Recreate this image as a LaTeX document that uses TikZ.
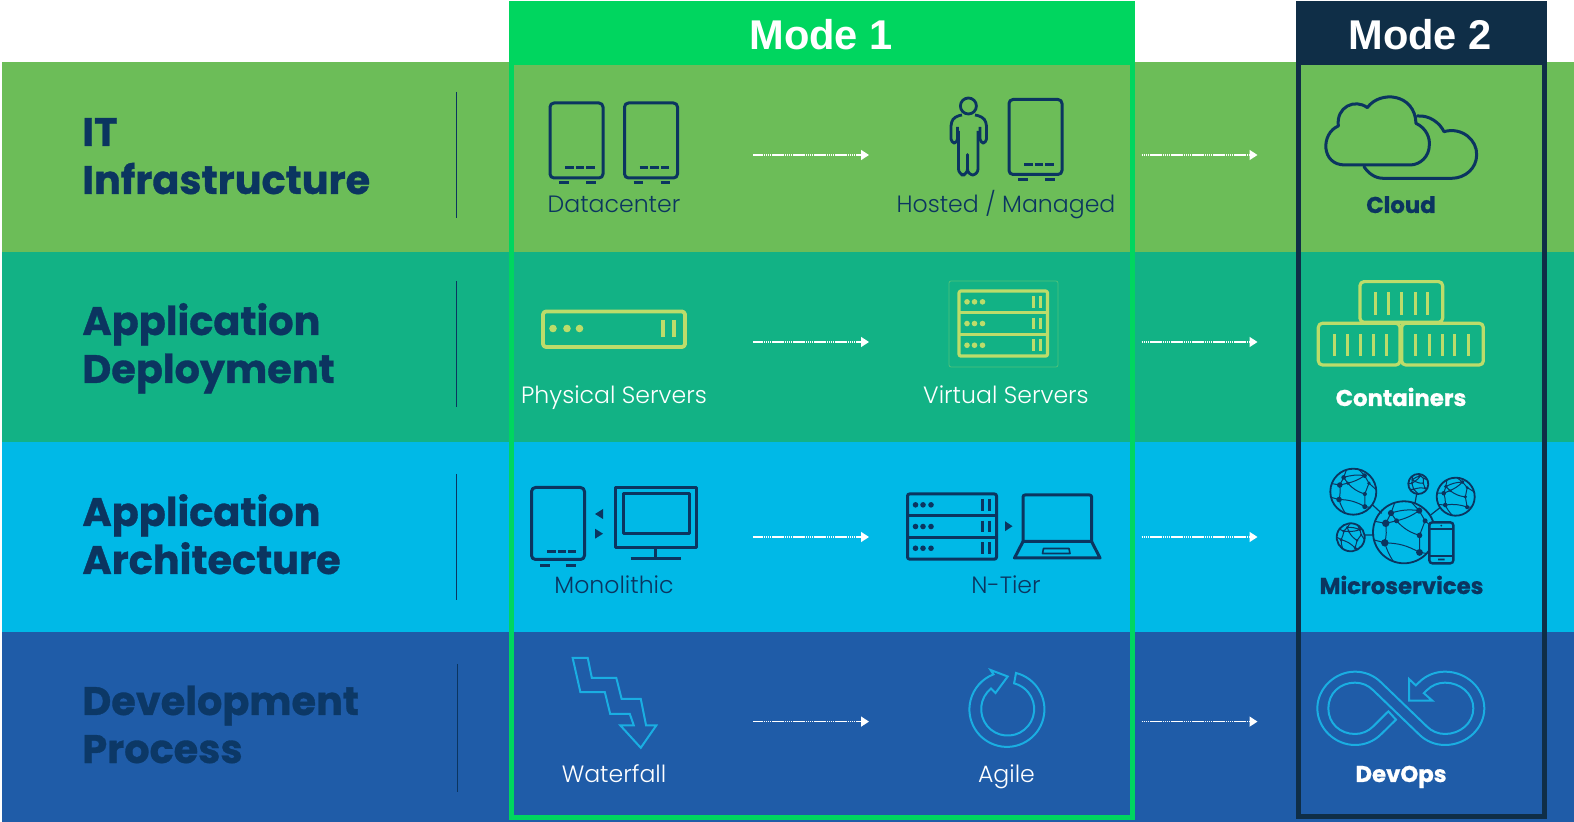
\documentclass[tikz,border=0pt]{standalone}
\usepackage{fontspec}
\setmainfont{Poppins}
\newfontfamily\headfont{Poppins}[BoldFont=* Bold,BoldFeatures={FakeBold=0.8}]
\newfontfamily\litefont{Poppins}[UprightFont=* Light]
\newfontfamily\modefont{Liberation Sans}
\usetikzlibrary{arrows.meta}
\definecolor{bandA}{HTML}{6CBD58}
\definecolor{bandB}{HTML}{12B285}
\definecolor{bandC}{HTML}{00B9E7}
\definecolor{bandD}{HTML}{1F5CA8}
\definecolor{modeA}{HTML}{00D65F}
\definecolor{modeB}{HTML}{0F2E47}
\definecolor{ink}{HTML}{0B3560}
\definecolor{lime}{HTML}{BCDC6A}
\definecolor{cyanline}{HTML}{1AAEE2}
\tikzset{
 x=0.5pt,y=-0.5pt,
 head/.style={anchor=base west,inner sep=0,font=\headfont\bfseries\fontsize{19.9}{20}\selectfont,text=ink},
 lab/.style={anchor=base,inner sep=0,font=\litefont\fontsize{11.8}{12}\selectfont},
 blab/.style={anchor=base,inner sep=0,font=\headfont\bfseries\fontsize{11.4}{12}\selectfont},
 modelab/.style={anchor=base,inner sep=0,font=\modefont\bfseries\fontsize{20.8}{22}\selectfont,text=white},
 ico/.style={draw=ink,line width=1.5pt,line join=round},
 lim/.style={draw=lime,line width=1.6pt,line join=round},
 cya/.style={draw=cyanline,line width=1pt,line join=miter},
 divider/.style={draw=ink,line width=0.5pt},
 flow/.style={draw=white,line width=0.65pt,dash pattern=on 0.8pt off 0.25pt,-{Triangle[length=4pt,width=5pt,fill=white]}},
}
\newcommand{\towerbox}[2]{%
 \draw[ico,rounded corners=2pt] (#1,#2) rectangle ++(53,75);
 \draw[ico,dash pattern=on 4.3pt off 1pt] (#1+15,#2+65) -- ++(30,0);
 \draw[ico] (#1+9,#2+80) -- ++(9.5,0) (#1+36,#2+80) -- ++(9.5,0);
}
\newcommand{\rackbox}[6]{%
 \draw[#6,rounded corners=1pt] (#1,#2) rectangle ++(#3,3*#4);
 \draw[#6] (#1,#2+#4) -- ++(#3,0) (#1,#2+2*#4) -- ++(#3,0);
 \foreach \i in {0,1,2}{
  \fill[#5] (#1+8,#2+#4*\i+#4/2) circle (2.8) (#1+15.5,#2+#4*\i+#4/2) circle (2.8) (#1+23.5,#2+#4*\i+#4/2) circle (2.8);
  \draw[#5,line width=1.1pt] (#1+#3-14,#2+#4*\i+5) -- ++(0,#4-10) (#1+#3-7,#2+#4*\i+5) -- ++(0,#4-10);
 }
}
\newcommand{\globeicon}[4]{%
 \begin{scope}[shift={(#1,#2)},rotate=#4]
 \draw[ink,line width=0.9pt] (0,0) circle (#3);
 \begin{scope}[scale=#3]
 \coordinate (ga) at (-.42,-.62);\coordinate (gb) at (-.59,-.29);\coordinate (gc) at (-.24,-.37);
 \coordinate (gd) at (-.62,.34);\coordinate (ge) at (.49,-.70);\coordinate (gf) at (.68,-.37);
 \coordinate (gg) at (.5,.1);\coordinate (gh) at (.5,.65);
 \draw[ink,line width=0.5pt] (ga)--(gb) (ga)--(gc) (gb)--(gc)
  (gb) to[bend left=10] (gd) (gd) to[bend left=14] (gh) (gc) to[bend right=15] (gg)
  (ga) to[bend left=12] (ge) (ge)--(gf) (gf)--(gg) (gg)--(gh) (ge) to[bend left=10] (gc)
  (gd)--(-.95,.25) (gh)--(.72,.68) (ga)--(-.3,-.95) (ge)--(.25,-.96) (gb)--(-.92,-.35) (gf)--(.98,-.1) (gd) to[bend right=8] (-.35,.93);
 \foreach \p/\q in {ga/.1,gb/.12,gc/.08,gd/.12,ge/.1,gf/.08,gg/.09,gh/.11}{\fill[ink] (\p) circle (\q);}
 \end{scope}
 \end{scope}
}
\begin{document}
\begin{tikzpicture}
\useasboundingbox (0,0) rectangle (1574,822);
% bands
\fill[bandA] (2,62) rectangle (1574,252);
\fill[bandB] (2,252) rectangle (1574,442);
\fill[bandC] (2,442) rectangle (1574,632);
\fill[bandD] (2,632) rectangle (1574,822);
% dividers
\coordinate (da1) at (456,92);\coordinate (da2) at (456,218);
\coordinate (db1) at (456,281);\coordinate (db2) at (456,407);
\coordinate (dc1) at (456,474);\coordinate (dc2) at (456,600);
\coordinate (dd1) at (457,664);\coordinate (dd2) at (457,792);
\draw[divider] (da1)--(da2) (db1)--(db2) (dc1)--(dc2) (dd1)--(dd2);
% row headings
\node[head] (h1a) at (82,146) {IT};
\node[head] (h1b) at (82,194) {Infrastructure};
\node[head] (h2a) at (82,335) {Application};
\node[head] (h2b) at (82,383) {Deployment};
\node[head] (h3a) at (82,526) {Application};
\node[head] (h3b) at (82,574) {Architecture};
\node[head,text=ink!92!bandD] (h4a) at (82,715) {Development};
\node[head,text=ink!92!bandD] (h4b) at (82,763) {Process};
% mode frames
\fill[modeA] (509,1) rectangle (1135,65);
\draw[modeA,line width=2.5pt] (511.5,60) rectangle (1132.5,817);
\fill[modeB] (1296,1) rectangle (1547,65);
\draw[modeB,line width=2.5pt] (1298.5,60) rectangle (1544.5,816.5);
\node[modelab] (m1) at (821,50) {Mode 1};
\node[modelab] (m2) at (1420,50) {Mode 2};
% Datacenter
\towerbox{550}{103}
\towerbox{624.5}{103}
\node[lab,text=ink] (t1) at (614,213) {Datacenter};
% Hosted
\draw[ico,line width=1.4pt] (968.4,106) circle (8);
\draw[ico,line width=1.4pt,rounded corners=2pt] (962,115) -- (955,116.5) -- (951,122) -- (951,143) -- (957.5,143) -- (957.5,127);
\draw[ico,line width=1.4pt,rounded corners=2pt] (975,115) -- (982,116.5) -- (986.5,122) -- (986.5,143) -- (980,143) -- (980,127);
\draw[ico,line width=1.4pt,rounded corners=3pt] (958.5,131) -- (958.5,175) -- (967.5,175) -- (967.5,151) -- (967.5,175) -- (978,175) -- (978,131);
\towerbox{1009}{99.5}
\node[lab,text=ink] (t2) at (1006,213) {Hosted / Managed};
% Physical
\draw[lim,line width=1.9pt,rounded corners=1.5pt] (543,311.5) rectangle (685,347);
\fill[lime] (553,328.5) circle (3.8) (567,328.5) circle (3.8) (579.5,328.5) circle (3.8);
\draw[lime,line width=2pt] (663,320)--(663,337) (673.5,320)--(673.5,337);
\node[lab,text=white] (t3) at (614,404) {Physical Servers};
% Virtual
\draw[lime!35!bandB,line width=0.4pt,rounded corners=1pt] (949,281) rectangle (1058,367);
\rackbox{959}{291}{88.5}{21.7}{lime}{lim}
\node[lab,text=white] (t4) at (1006,404) {Virtual Servers};
% Monolithic
\draw[ico,rounded corners=2pt] (531.5,487.5) rectangle (584.5,559.5);
\draw[ico,dash pattern=on 4.3pt off 1pt] (547,551.5) -- (576,551.5);
\draw[ico] (540,565.5) -- (550,565.5) (566,565.5) -- (576,565.5);
\fill[ink] (595,514) -- (603,509) -- (603,519) -- cycle;
\fill[ink] (603,533.7) -- (595,528.7) -- (595,538.7) -- cycle;
\draw[ico] (615.5,487.5) rectangle (696.7,548);
\draw[ico] (623,494) rectangle (689,533.5);
\draw[ico] (655.5,548) -- (655.5,558.5) (630.5,558.5) -- (681,558.5);
\node[lab,text=ink] (t5) at (614,594) {Monolithic};
% N-tier
\rackbox{907.5}{494}{89}{21.7}{ink}{ico}
\fill[ink] (1012.5,526.2) -- (1005,521.2) -- (1005,531.2) -- cycle;
\draw[ico,rounded corners=1pt] (1023,541.5) -- (1023,495) -- (1091.6,495) -- (1091.6,541.5);
\draw[ico] (1023,541.5) -- (1091.6,541.5) -- (1100,558) -- (1014.5,558) -- cycle;
\draw[ico,line width=0.8pt] (1043.5,548.5) -- (1069,548.5) -- (1070,553.5) -- (1042.5,553.5) -- cycle;
\node[lab,text=ink] (t6) at (1006,594) {N-Tier};
% Waterfall
\begin{scope}[shift={(500,440.5)},xscale=.408,yscale=.3333]
\draw[cya] (178,652)--(215,652)--(225,712)--(285,712)--(298,775)--(345,775)--(358,855)--(383,855)--(345,922)--(295,855)--(328,855)--(318,820)--(270,820)--(257,755)--(197,755)--cycle;
\end{scope}
\node[lab,text=white] (t7) at (614,782.5) {Waterfall};
% Agile
\draw[cya] (1016,673) arc[start angle=-76,end angle=249,radius=37.5] -- (990.6,670) -- (1007.7,676.5) -- (995.5,693) -- (991,688.5) arc[start angle=231,end angle=-76,radius=26.5] -- cycle;
\node[lab,text=white] (t8) at (1006.5,782.5) {Agile};
% Cloud
\begin{scope}[shift={(1280,60)},scale=.3333]
\draw[ico,line cap=round] (412,168) .. controls (450,165) and (480,190) .. (492,215) .. controls (545,200) and (592,240) .. (590,285) .. controls (590,325) and (555,355) .. (515,355) -- (310,355) .. controls (285,355) and (265,340) .. (252,320);
\draw[ico] (175,198) .. controls (168,140) and (225,115) .. (262,143) .. controls (300,90) and (405,100) .. (408,190) .. controls (440,205) and (450,235) .. (448,255) .. controls (448,290) and (420,315) .. (390,315) -- (195,315) .. controls (122,315) and (122,220) .. (175,198) -- cycle;
\end{scope}
\node[blab,text=ink] (t9) at (1401,213) {Cloud};
% Containers
\begin{scope}[shift={(1280,60)},scale=.3333]
\draw[lim,rounded corners=2pt] (240,665) rectangle (488,787);
\draw[lim,rounded corners=2pt] (115,790) rectangle (360,915);
\draw[lim,rounded corners=2pt] (365,790) rectangle (610,915);
\draw[lime,line width=1.5pt] \foreach \cx in {285,325,365,405,443}{(\cx,697)--(\cx,765)}
 \foreach \cx in {162,202,241,280,320,407,447,486,525,565}{(\cx,822)--(\cx,888)};
\end{scope}
\node[blab,text=white] (t10) at (1401,406) {Containers};
% Microservices
\globeicon{1353.3}{491.7}{23}{0}
\globeicon{1418.3}{484}{10}{20}
\globeicon{1455.7}{496.7}{19}{10}
\globeicon{1350.7}{537.3}{14}{-15}
\globeicon{1404}{532.3}{31}{0}
\begin{scope}[shift={(1300,455)},scale=.3333]
\draw[ink,line width=0.6pt] (218,150)--(245,175) (195,240)--(222,240) (350,117)--(345,145) (420,158)--(392,180);
\draw[ink,fill=bandC,line width=1.2pt,rounded corners=1.5pt] (388,202) rectangle (460,325);
\draw[ink,line width=0.8pt] (388,222)--(460,222) (388,303)--(460,303);
\fill[ink] (424,212) circle (3) (414,311) rectangle (434,316);
\end{scope}
\node[blab,text=ink] (t11) at (1401.5,594) {Microservices};
% DevOps
\begin{scope}[shift={(1300,660)},scale=.3333]
\draw[cya] (347.7,76.3) -- (357,67) .. controls (378,46) and (406,35) .. (435,35) .. controls (500,35) and (553,85) .. (553,145) .. controls (553,205) and (500,255) .. (435,255) .. controls (406,255) and (378,244) .. (357,223) -- (219.4,90.6) .. controls (205,76) and (185.4,68) .. (165,68) .. controls (120,68) and (85,100) .. (85,145) .. controls (85,190) and (120,222) .. (165,222) .. controls (185.4,222) and (205,214) .. (219.4,199.4) -- (265,154) -- (288,179) -- (243,223) .. controls (222,244) and (194,255) .. (165,255) .. controls (105,255) and (52,205) .. (52,145) .. controls (52,85) and (105,35) .. (165,35) .. controls (194,35) and (222,46) .. (243,67) -- (380.6,199.4) .. controls (395,213.8) and (414.6,222) .. (435,222) .. controls (480,222) and (520,190) .. (520,145) .. controls (520,100) and (480,68) .. (435,68) .. controls (414.6,68) and (395,76) .. (380.6,90.6) -- (371.6,99.6) -- (397,122) -- (327,122) -- (327,57) -- cycle;
\end{scope}
\node[blab,text=white] (t12) at (1401,782) {DevOps};
% arrows
\foreach \n/\yy in {a/155,b/342,c/537,d/721.6}{
 \coordinate (\n s1) at (753,\yy);\coordinate (\n e1) at (869,\yy);
 \coordinate (\n s2) at (1141.5,\yy);\coordinate (\n e2) at (1257.5,\yy);
 \draw[flow] (\n s1) -- (\n e1);
 \draw[flow] (\n s2) -- (\n e2);
}
\end{tikzpicture}
\end{document}
